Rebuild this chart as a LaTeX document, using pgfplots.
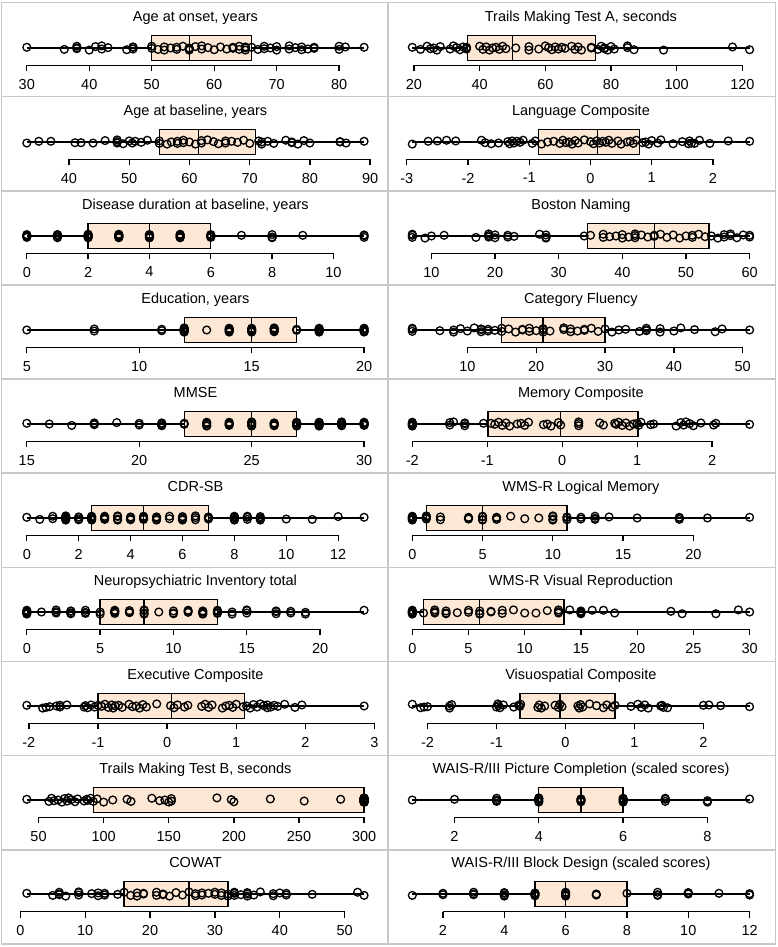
\documentclass[border=0pt]{standalone}
\usepackage{fontspec}
\setmainfont{Liberation Sans}
\usepackage{pgfplots}
\pgfplotsset{compat=1.18}
\usepgfplotslibrary{statistics}
\definecolor{boxfill}{RGB}{253,232,214}
\definecolor{frame}{RGB}{200,200,200}
\newcommand\tfont{\fontsize{14.5}{17}\selectfont}
\pgfplotsset{
  panel/.style={
    width=364.3pt, height=35pt, scale only axis,
    ymin=0, ymax=1,
    axis x line*=bottom, hide y axis,
    x axis line style={draw=none},
    xtick align=outside, major tick length=6pt,
    tick style={black, line width=1.3pt},
    clip=false,
    title style={font=\tfont, at={(0.5,1)}, anchor=base, yshift=2.5pt, inner sep=0pt},
    xticklabel style={font=\tfont, yshift=-4pt},
    /pgf/number format/assume math mode=true,
  },
  bx/.style={draw=black, fill=boxfill, line width=1.3pt,
    boxplot/draw direction=x, boxplot/draw position=0.5,
    boxplot/box extend=0.7, boxplot/whisker extend=0},
  pts/.style={only marks, mark=o, mark size=3.9pt, black, mark options={line width=1.3pt}},
  axln/.style={black, line width=1.3pt},
}
\begin{document}
\begin{tikzpicture}
\useasboundingbox (0,0) rectangle (777pt,947pt);
% panel frames
\draw[frame, line width=1.6pt] (1.5pt,3pt) rectangle (775.5pt,944.5pt);
\draw[frame, line width=1.6pt] (388pt,3pt) -- (388pt,944.5pt);
\foreach \yy in {850.35,756.2,662.05,567.9,473.75,379.6,285.45,191.3,97.15}
  \draw[frame, line width=1.6pt] (1.5pt,\yy pt) -- (775.5pt,\yy pt);

% ---------------- left column ----------------
\begin{axis}[panel, at={(13.3pt,881.5pt)}, xmin=27.84, xmax=86.16, xtick={30,40,...,80},
  title={Age at onset, years}]
\addplot[bx, boxplot prepared={lower whisker=30, lower quartile=50, median=56, upper quartile=66, upper whisker=84}] coordinates {};
\addplot[axln] coordinates {(30,0) (80,0)};
\addplot[pts] coordinates {
(30,.52)(36,.46)(38,.55)(38,.48)(38,.50)(40,.44)(41,.54)(42,.47)(42,.56)(43,.51)(46,.45)(47,.53)(47,.47)(47,.52)(50,.49)(50,.55)(51,.46)(52,.53)(52,.44)(53,.50)
(54,.52)(54,.46)(55,.55)(56,.48)(56,.50)(56,.44)(57,.54)(58,.47)(58,.56)(59,.51)(60,.45)(61,.53)(62,.47)(63,.52)(63,.49)(64,.55)(64,.46)(65,.53)(65,.44)(65,.50)
(66,.52)(67,.46)(68,.55)(68,.48)(69,.50)(70,.44)(70,.54)(72,.47)(72,.56)(73,.51)(74,.45)(74,.53)(75,.47)(76,.52)(76,.49)(80,.55)(80,.46)(81,.53)(84,.52)};
\end{axis}

\begin{axis}[panel, at={(13.3pt,787.5pt)}, xmin=30.76, xmax=91.24, xtick={40,50,...,90},
  title={Age at baseline, years}]
\addplot[bx, boxplot prepared={lower whisker=33, lower quartile=55, median=61.5, upper quartile=71, upper whisker=89}] coordinates {};
\addplot[axln] coordinates {(40,0) (90,0)};
\addplot[pts] coordinates {
(33,.47)(35,.52)(37,.52)(41,.48)(42,.48)(44,.47)(46,.54)(48,.47)(48,.56)(48,.51)(49,.45)(50,.53)(50.5,.47)(51,.52)(52,.49)(53,.55)(55,.46)(55,.53)(56.3,.44)(57,.50)
(58,.52)(58,.46)(59,.55)(59,.48)(60,.50)(61,.44)(62,.54)(62,.47)(63,.56)(64,.51)(64.8,.45)(66,.53)(66,.47)(67,.52)(68,.49)(69,.55)(70,.46)(71.5,.53)(72,.44)(72,.50)
(73,.52)(74,.46)(76,.55)(77,.48)(77,.50)(78,.44)(79,.54)(80,.47)(85,.50)(85,.51)(86,.47)(89,.52)};
\end{axis}

\begin{axis}[panel, at={(13.3pt,693.5pt)}, xmin=-0.44, xmax=11.44, xtick={0,2,...,10},
  title={Disease duration at baseline, years}]
\addplot[bx, boxplot prepared={lower whisker=0, lower quartile=2, median=4, upper quartile=6, upper whisker=11}] coordinates {};
\addplot[axln] coordinates {(0,0) (10,0)};
\addplot[pts] coordinates {
(0,.52)(0,.46)(0,.54)(0,.48)(0,.50)(1,.45)(1,.54)(1,.47)(1,.53)(1,.51)(2,.45)(2,.53)(2,.47)(2,.52)(2,.49)(2,.55)(2,.46)(3,.53)(3,.45)(3,.50)
(3,.52)(3,.46)(3,.55)(3,.48)(3,.50)(4,.45)(4,.54)(4,.47)(4,.53)(4,.51)(4,.45)(4,.53)(4,.47)(5,.52)(5,.49)(5,.55)(5,.46)(5,.53)(5,.45)(6,.50)
(6,.52)(6,.46)(6,.54)(6,.48)(7,.52)(8,.45)(8,.54)(8,.47)(9,.52)(11,.51)(11,.46)(11,.53)};
\end{axis}

\begin{axis}[panel, at={(13.3pt,599.5pt)}, xmin=4.4, xmax=20.6, xtick={5,10,15,20},
  title={Education, years}]
\addplot[bx, boxplot prepared={lower whisker=5, lower quartile=12, median=15, upper quartile=17, upper whisker=20}] coordinates {};
\addplot[axln] coordinates {(5,0) (20,0)};
\addplot[pts] coordinates {
(5,.50)(8,.47)(8,.53)(11,.48)(11,.52)(12,.44)(12,.54)(12,.47)(12,.56)(12,.51)(12,.45)(12,.53)(12,.47)(13,.50)(14,.49)(14,.55)(14,.46)(14,.53)(14,.44)(14,.50)
(15,.52)(15,.46)(15,.55)(15,.48)(15,.50)(15,.44)(16,.54)(16,.47)(16,.56)(16,.51)(16,.45)(16,.53)(17,.49)(17,.52)(18,.49)(18,.55)(18,.46)(18,.53)(18,.44)(18,.50)
(18,.52)(20,.46)(20,.55)(20,.48)(20,.50)(20,.44)(20,.54)};
\end{axis}

\begin{axis}[panel, at={(13.3pt,505.5pt)}, xmin=14.4, xmax=30.6, xtick={15,20,25,30},
  title={MMSE}]
\addplot[bx, boxplot prepared={lower whisker=15, lower quartile=22, median=25, upper quartile=27, upper whisker=30}] coordinates {};
\addplot[axln] coordinates {(15,0) (30,0)};
\addplot[pts] coordinates {
(15,.52)(16,.50)(17,.46)(18,.48)(18,.50)(18,.53)(19,.54)(20,.47)(20,.52)(21,.51)(21,.45)(21,.53)(21,.47)(22,.52)(22,.49)(23,.55)(23,.46)(23,.53)(23,.44)(23,.50)
(24,.52)(24,.46)(24,.55)(24,.48)(24,.50)(25,.44)(25,.54)(25,.47)(25,.56)(25,.51)(26,.45)(26,.53)(26,.47)(26,.52)(26,.49)(27,.55)(27,.46)(27,.53)(27,.44)(27,.50)
(27,.52)(28,.46)(28,.55)(28,.48)(28,.50)(28,.44)(28,.54)(29,.47)(29,.56)(29,.51)(29,.45)(29,.53)(30,.47)(30,.52)(30,.49)(30,.55)(30,.46)(30,.53)};
\end{axis}

\begin{axis}[panel, at={(13.3pt,411.5pt)}, xmin=-0.52, xmax=13.52, xtick={0,2,...,12},
  title={CDR-SB}]
\addplot[bx, boxplot prepared={lower whisker=0, lower quartile=2.5, median=4.5, upper quartile=7, upper whisker=13}] coordinates {};
\addplot[axln] coordinates {(0,0) (12,0)};
\addplot[pts] coordinates {
(0,.52)(0.5,.46)(1,.55)(1,.48)(1.5,.50)(1.5,.44)(1.5,.54)(1.5,.47)(1.5,.56)(1.5,.51)(2,.45)(2,.53)(2,.47)(2,.52)(2.5,.49)(2.5,.55)(2.5,.46)(2.5,.53)(2.5,.44)(2.5,.50)
(3,.52)(3,.46)(3,.55)(3,.48)(3,.50)(3.5,.44)(3.5,.54)(3.5,.47)(3.5,.56)(4,.51)(4,.45)(4,.53)(4,.47)(4.5,.52)(4.5,.49)(4.5,.55)(4.5,.46)(5,.53)(5,.44)(5,.50)
(5,.52)(5,.46)(5.5,.55)(5.5,.48)(6,.50)(6,.44)(6,.54)(6,.47)(6.5,.56)(6.5,.51)(6.5,.45)(7,.53)(7,.47)(7,.52)(7,.49)(8,.55)(8,.46)(8,.53)(8,.44)(8,.50)
(8.5,.52)(8.5,.46)(8.5,.55)(9,.48)(9,.50)(9,.44)(9,.54)(10,.47)(11,.46)(12,.54)(13,.52)};
\end{axis}

\begin{axis}[panel, at={(13.3pt,317.5pt)}, xmin=-0.92, xmax=23.92, xtick={0,5,...,20},
  title={Neuropsychiatric Inventory total}]
\addplot[bx, boxplot prepared={lower whisker=0, lower quartile=5, median=8, upper quartile=13, upper whisker=23}] coordinates {};
\addplot[axln] coordinates {(0,0) (20,0)};
\addplot[pts] coordinates {
(0,.52)(0,.46)(0,.55)(0,.48)(0,.50)(0,.44)(1,.50)(2,.47)(2,.56)(2,.51)(3,.45)(3,.53)(3,.47)(3,.52)(4,.49)(4,.55)(4,.46)(5,.50)(5,.44)(6,.50)
(6,.52)(6,.46)(6,.55)(7,.48)(7,.50)(7,.54)(8,.44)(8,.54)(8,.47)(8,.56)(9,.50)(10,.45)(10,.53)(10,.47)(11,.52)(11,.49)(11,.55)(12,.46)(12,.53)(12,.44)
(12,.50)(13,.52)(13,.46)(13,.55)(13,.48)(14,.50)(14,.44)(15,.54)(15,.47)(15,.56)(17,.51)(17,.45)(17,.53)(18,.47)(18,.52)(19,.49)(19,.44)(23,.55)};
\end{axis}

\begin{axis}[panel, at={(13.3pt,223.5pt)}, xmin=-2.225, xmax=3.045, xtick={-2,-1,...,3},
  title={Executive Composite}]
\addplot[bx, boxplot prepared={lower whisker=-2.03, lower quartile=-1.0, median=0.06, upper quartile=1.12, upper whisker=2.85}] coordinates {};
\addplot[axln] coordinates {(-2,0) (3,0)};
\addplot[pts] coordinates {
(-2.03,.52)(-1.8,.44)(-1.75,.46)(-1.7,.48)(-1.6,.50)(-1.55,.52)(-1.55,.47)(-1.45,.53)(-1.2,.47)(-1.18,.51)(-1.15,.45)(-1.1,.53)(-1.05,.47)(-1.0,.52)(-0.95,.49)(-0.9,.55)(-0.85,.46)(-0.8,.53)(-0.78,.44)(-0.75,.50)
(-0.7,.52)(-0.65,.46)(-0.55,.55)(-0.5,.48)(-0.45,.50)(-0.4,.44)(-0.35,.54)(-0.3,.47)(-0.15,.56)(0.05,.51)(0.1,.45)(0.15,.53)(0.25,.47)(0.3,.52)(0.5,.49)(0.55,.55)(0.6,.46)(0.65,.53)(0.8,.44)(0.85,.50)
(0.9,.52)(0.95,.46)(1.0,.55)(1.1,.48)(1.15,.50)(1.2,.44)(1.25,.54)(1.3,.47)(1.35,.56)(1.4,.51)(1.45,.45)(1.45,.53)(1.5,.47)(1.55,.52)(1.6,.49)(1.7,.55)(1.85,.46)(1.95,.53)(2.85,.50)};
\end{axis}

\begin{axis}[panel, at={(13.3pt,129.5pt)}, xmin=30.64, xmax=310.36, xtick={50,100,...,300},
  title={Trails Making Test B, seconds}]
\addplot[bx, boxplot prepared={lower whisker=41, lower quartile=92, median=300, upper quartile=300, upper whisker=300}] coordinates {};
\addplot[axln] coordinates {(50,0) (300,0)};
\addplot[pts] coordinates {
(41,.52)(58,.46)(60,.55)(62,.48)(65,.50)(68,.44)(70,.54)(72,.47)(73,.56)(75,.51)(78,.45)(80,.53)(85,.47)(87,.52)(88,.49)(90,.55)(92,.46)(95,.53)(100,.44)(107,.50)
(118,.52)(121,.46)(137,.55)(143,.48)(147,.50)(150,.44)(152,.54)(152,.47)(187,.56)(198,.51)(200,.45)(228,.53)(254,.47)(282,.52)
(300,.49)(300,.55)(300,.46)(300,.53)(300,.44)(300,.50)(300,.52)(300,.46)(300,.55)(300,.48)(300,.50)(300,.44)(300,.54)(300,.47)(300,.56)(300,.51)(300,.45)
(300,.53)(300,.47)(300,.52)(300,.49)(300,.55)(300,.46)(300,.53)(300,.44)(300,.50)(300,.52)(300,.46)(300,.55)(300,.48)(300,.50)(300,.44)(300,.54)(300,.47)};
\end{axis}

\begin{axis}[panel, at={(13.3pt,35.5pt)}, xmin=-1.08, xmax=55.08, xtick={0,10,...,50},
  title={COWAT}]
\addplot[bx, boxplot prepared={lower whisker=1, lower quartile=16, median=26, upper quartile=32, upper whisker=53}] coordinates {};
\addplot[axln] coordinates {(0,0) (50,0)};
\addplot[pts] coordinates {
(1,.52)(5,.46)(6,.55)(6,.48)(6,.50)(7,.44)(9,.54)(9,.47)(9,.56)(11,.51)(12,.45)(12,.53)(13,.47)(13,.52)(15,.49)(16,.55)(17,.46)(18,.53)(18,.44)(19,.50)
(19,.52)(21,.46)(21,.55)(22,.48)(22,.50)(23,.44)(24,.54)(25,.47)(26,.56)(27,.51)(27,.45)(28,.53)(28,.47)(29,.52)(30,.49)(30,.55)(31,.46)(31,.53)(32,.44)(32,.50)
(33,.52)(33,.46)(33,.55)(34,.48)(35,.50)(35,.44)(35,.54)(36,.47)(37,.56)(39,.51)(39,.45)(40,.53)(41,.47)(41,.52)(45,.49)(52,.55)(53,.46)};
\end{axis}

% ---------------- right column ----------------
\begin{axis}[panel, at={(398.8pt,881.5pt)}, xmin=15.39, xmax=126.31, xtick={20,40,...,120},
  title={Trails Making Test A, seconds}]
\addplot[bx, boxplot prepared={lower whisker=19.5, lower quartile=36.4, median=50, upper quartile=75.2, upper whisker=122.2}] coordinates {};
\addplot[axln] coordinates {(20,0) (120,0)};
\addplot[pts] coordinates {
(19.5,.52)(22,.46)(24,.55)(25,.48)(26,.50)(27,.44)(28,.54)(31,.47)(32,.56)(33,.51)(34,.45)(35,.53)(36,.47)(36,.52)(36,.49)(40,.55)(41,.46)(42,.53)(43,.44)(44,.50)
(45,.52)(46,.46)(47,.55)(48,.48)(51,.50)(55,.44)(55,.54)(58,.47)(60,.56)(61,.51)(62,.45)(63,.53)(64,.47)(65,.52)(66,.49)(68,.55)(69,.46)(70,.53)(71,.44)(74,.50)
(74,.52)(76,.46)(77,.55)(78,.48)(78,.50)(79,.44)(80,.54)(81,.47)(85,.56)(85,.51)(87,.45)(96,.44)(117,.53)(122.2,.45)};
\end{axis}

\begin{axis}[panel, at={(398.8pt,787.5pt)}, xmin=-3.13, xmax=2.82, xtick={-3,-2,...,2},
  title={Language Composite}]
\addplot[bx, boxplot prepared={lower whisker=-2.91, lower quartile=-0.85, median=0.11, upper quartile=0.8, upper whisker=2.6}] coordinates {};
\addplot[axln] coordinates {(-3,0) (2,0)};
\addplot[pts] coordinates {
(-2.91,.44)(-2.65,.52)(-2.5,.53)(-2.35,.55)(-2.2,.53)(-1.78,.55)(-1.72,.48)(-1.62,.45)(-1.5,.47)(-1.35,.51)(-1.32,.45)(-1.28,.53)(-1.25,.47)(-1.2,.52)(-1.15,.49)(-1.1,.55)(-0.95,.46)(-0.9,.53)(-0.8,.44)(-0.7,.50)
(-0.6,.52)(-0.5,.46)(-0.45,.55)(-0.4,.48)(-0.35,.50)(-0.3,.44)(-0.25,.54)(-0.2,.47)(-0.1,.56)(0.0,.51)(0.05,.45)(0.1,.53)(0.15,.47)(0.2,.52)(0.25,.49)(0.3,.55)(0.35,.46)(0.45,.53)(0.5,.44)(0.6,.50)
(0.65,.52)(0.7,.46)(0.75,.55)(0.85,.48)(0.9,.50)(0.95,.44)(1.0,.54)(1.1,.47)(1.15,.56)(1.35,.45)(1.5,.51)(1.6,.45)(1.62,.53)(1.65,.47)(1.7,.46)(1.78,.55)(1.95,.46)(2.25,.53)(2.6,.52)};
\end{axis}

\begin{axis}[panel, at={(398.8pt,693.5pt)}, xmin=4.88, xmax=62.12, xtick={10,20,...,60},
  title={Boston Naming}]
\addplot[bx, boxplot prepared={lower whisker=7, lower quartile=34.5, median=45, upper quartile=53.6, upper whisker=60}] coordinates {};
\addplot[axln] coordinates {(10,0) (60,0)};
\addplot[pts] coordinates {
(7,.52)(7,.46)(7,.55)(9,.44)(10,.50)(12,.52)(17,.46)(19,.47)(19,.56)(19,.51)(20,.45)(20,.53)(22,.47)(22,.52)(23,.49)(27,.55)(28,.46)(28,.53)(28,.44)(34,.50)
(35,.52)(37,.46)(37,.55)(38,.48)(39,.50)(40,.44)(40,.54)(41,.47)(42,.56)(42,.51)(42,.45)(43,.53)(44,.47)(45,.52)(45,.49)(46,.55)(47,.46)(48,.53)(49,.44)(50,.50)
(51,.52)(51,.46)(52,.55)(53,.48)(54,.50)(55,.44)(56,.54)(56,.47)(57,.56)(57,.51)(58,.45)(59,.53)(60,.47)(60,.52)};
\end{axis}

\begin{axis}[panel, at={(398.8pt,599.5pt)}, xmin=0.04, xmax=52.96, xtick={10,20,...,50},
  title={Category Fluency}]
\addplot[bx, boxplot prepared={lower whisker=2, lower quartile=15, median=21, upper quartile=30, upper whisker=51}] coordinates {};
\addplot[axln] coordinates {(10,0) (50,0)};
\addplot[pts] coordinates {
(2,.52)(2,.46)(2,.55)(6,.48)(8,.50)(8,.44)(9,.54)(10,.47)(11,.56)(12,.51)(12,.45)(12,.53)(13,.47)(13,.52)(14,.49)(15,.55)(15,.46)(16,.53)(17,.44)(18,.50)
(18,.52)(19,.46)(19,.55)(20,.48)(21,.50)(21,.44)(21,.54)(22,.47)(24,.56)(24,.51)(25,.45)(25,.53)(26,.47)(27,.52)(27,.49)(28,.55)(29,.46)(30,.53)(31,.44)(32,.50)
(33,.52)(35,.46)(36,.55)(36,.48)(36,.50)(38,.44)(38,.54)(40,.47)(41,.56)(43,.51)(46,.45)(47,.53)(51,.50)};
\end{axis}

\begin{axis}[panel, at={(398.8pt,505.5pt)}, xmin=-2.18, xmax=2.68, xtick={-2,-1,...,2},
  title={Memory Composite}]
\addplot[bx, boxplot prepared={lower whisker=-2, lower quartile=-0.99, median=-0.02, upper quartile=1.01, upper whisker=2.5}] coordinates {};
\addplot[axln] coordinates {(-2,0) (2,0)};
\addplot[pts] coordinates {
(-2,.52)(-2,.46)(-2,.55)(-2,.48)(-2,.50)(-2,.44)(-1.5,.54)(-1.5,.47)(-1.45,.56)(-1.3,.51)(-1.3,.45)(-1.3,.53)(-1.05,.52)(-0.95,.52)(-0.9,.49)(-0.85,.55)(-0.8,.46)(-0.75,.53)(-0.7,.44)(-0.6,.50)
(-0.55,.52)(-0.5,.46)(-0.45,.55)(-0.25,.48)(-0.2,.50)(-0.15,.44)(-0.05,.54)(-0.02,.47)(0.22,.56)(0.22,.51)(0.22,.45)(0.5,.53)(0.55,.47)(0.7,.52)(0.72,.49)(0.75,.55)(0.8,.46)(0.85,.53)(0.9,.44)(0.95,.50)
(1.0,.52)(1.02,.46)(1.05,.55)(1.18,.48)(1.22,.50)(1.52,.44)(1.58,.54)(1.62,.47)(1.65,.56)(1.7,.51)(1.75,.45)(1.85,.53)(2.02,.47)(2.05,.52)(2.5,.49)};
\end{axis}

\begin{axis}[panel, at={(398.8pt,411.5pt)}, xmin=-0.96, xmax=24.96, xtick={0,5,...,20},
  title={WMS-R Logical Memory}]
\addplot[bx, boxplot prepared={lower whisker=0, lower quartile=1, median=5, upper quartile=11, upper whisker=24}] coordinates {};
\addplot[axln] coordinates {(0,0) (20,0)};
\addplot[pts] coordinates {
(0,.52)(0,.46)(0,.55)(0,.48)(0,.50)(0,.44)(1,.54)(1,.47)(1,.56)(1,.51)(2,.45)(2,.53)(4,.47)(4,.52)(4,.49)(5,.55)(5,.46)(5,.53)(5,.44)(6,.50)
(6,.52)(6,.46)(7,.55)(8,.48)(9,.50)(10,.44)(10,.54)(10,.47)(10,.56)(11,.51)(11,.45)(11,.53)(12,.47)(12,.52)(13,.49)(13,.55)(13,.46)(14,.53)(16,.50)(19,.50)
(19,.52)(19,.46)(21,.50)(24,.52)};
\end{axis}

\begin{axis}[panel, at={(398.8pt,317.5pt)}, xmin=-1.2, xmax=31.2, xtick={0,5,...,30},
  title={WMS-R Visual Reproduction}]
\addplot[bx, boxplot prepared={lower whisker=0, lower quartile=1, median=6, upper quartile=13.5, upper whisker=30}] coordinates {};
\addplot[axln] coordinates {(0,0) (30,0)};
\addplot[pts] coordinates {
(0,.52)(0,.46)(0,.55)(0,.48)(0,.50)(0,.44)(1,.47)(2,.47)(2,.56)(2,.51)(3,.45)(3,.53)(3,.47)(4,.48)(5,.49)(5,.55)(6,.46)(6,.53)(6,.44)(7,.50)
(7,.52)(8,.46)(8,.55)(9,.56)(10,.47)(11,.47)(12,.54)(13,.47)(13,.56)(13,.51)(14,.56)(15,.45)(15,.53)(15,.47)(15,.50)(16,.55)(17,.55)(18,.47)(23,.52)(24,.45)
(27,.45)(29,.56)(30,.50)};
\end{axis}

\begin{axis}[panel, at={(398.8pt,223.5pt)}, xmin=-2.416, xmax=2.866, xtick={-2,-1,...,2},
  title={Visuospatial Composite}]
\addplot[bx, boxplot prepared={lower whisker=-2.22, lower quartile=-0.66, median=-0.08, upper quartile=0.72, upper whisker=2.67}] coordinates {};
\addplot[axln] coordinates {(-2,0) (2,0)};
\addplot[pts] coordinates {
(-2.22,.55)(-2.1,.45)(-2.05,.47)(-2.0,.48)(-1.68,.50)(-1.68,.44)(-1.65,.54)(-1.0,.47)(-0.98,.56)(-0.97,.51)(-0.95,.45)(-0.9,.53)(-0.75,.47)(-0.68,.52)(-0.66,.49)(-0.65,.55)(-0.4,.46)(-0.38,.53)(-0.35,.44)(-0.3,.50)
(-0.15,.52)(-0.1,.46)(-0.08,.55)(-0.05,.48)(0.18,.50)(0.2,.44)(0.22,.54)(0.25,.47)(0.35,.56)(0.45,.51)(0.55,.45)(0.6,.53)(0.68,.47)(0.72,.52)(0.95,.49)(1.05,.55)(1.1,.46)(1.15,.53)(1.2,.44)(1.38,.50)
(1.4,.52)(1.42,.46)(1.48,.45)(2.0,.52)(2.08,.53)(2.25,.51)(2.67,.48)};
\end{axis}

\begin{axis}[panel, at={(398.8pt,129.5pt)}, xmin=0.68, xmax=9.32, xtick={2,4,6,8},
  title={WAIS-R/III Picture Completion (scaled scores)}]
\addplot[bx, boxplot prepared={lower whisker=1, lower quartile=4, median=5, upper quartile=6, upper whisker=9}] coordinates {};
\addplot[axln] coordinates {(2,0) (8,0)};
\addplot[pts] coordinates {
(1,.50)(2,.52)(3,.46)(3,.55)(3,.48)(3,.50)(4,.44)(4,.54)(4,.47)(4,.56)(4,.51)(5,.45)(5,.53)(5,.47)(5,.52)(5,.49)(6,.55)(6,.46)(6,.53)(6,.44)(6,.50)
(7,.52)(7,.46)(7,.55)(8,.48)(8,.44)(9,.53)};
\end{axis}

\begin{axis}[panel, at={(398.8pt,35.5pt)}, xmin=0.56, xmax=12.44, xtick={2,4,...,12},
  title={WAIS-R/III Block Design (scaled scores)}]
\addplot[bx, boxplot prepared={lower whisker=1, lower quartile=5, median=6, upper quartile=8, upper whisker=12}] coordinates {};
\addplot[axln] coordinates {(2,0) (12,0)};
\addplot[pts] coordinates {
(1,.46)(2,.52)(2,.48)(3,.55)(3,.48)(3,.50)(4,.44)(4,.54)(4,.47)(4,.52)(5,.51)(5,.45)(5,.53)(5,.47)(5,.52)(6,.49)(6,.55)(6,.46)(6,.53)(6,.44)
(7,.50)(7,.47)(8,.52)(9,.46)(9,.55)(9,.48)(10,.50)(10,.53)(10,.54)(11,.52)(12,.47)(12,.51)};
\end{axis}
\end{tikzpicture}
\end{document}
